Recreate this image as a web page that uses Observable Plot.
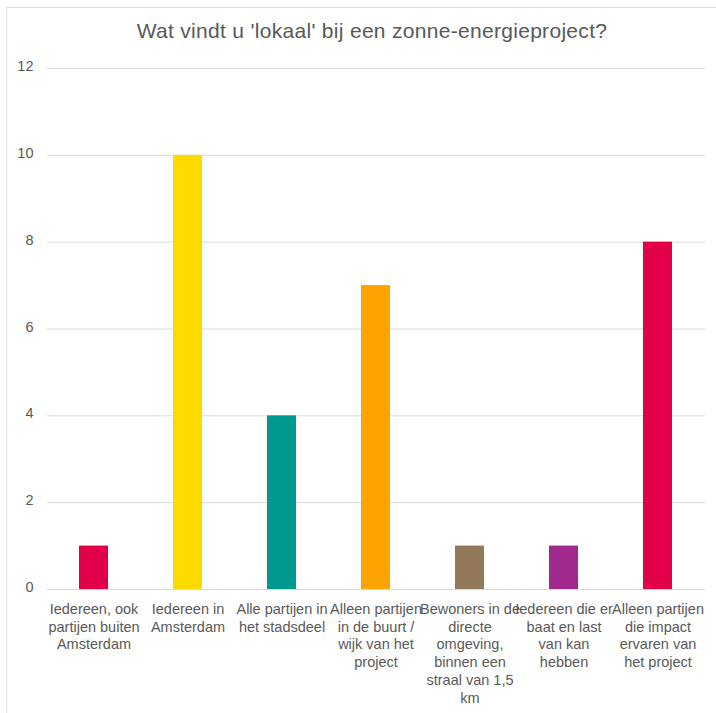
<!DOCTYPE html>
<html><head><meta charset="utf-8">
<script src="https://cdn.jsdelivr.net/npm/d3@7"></script>
<script src="https://cdn.jsdelivr.net/npm/@observablehq/plot@0.6"></script>
<style>
html,body{margin:0;padding:0;background:#fff;overflow:hidden;width:716px;height:713px;}
#frame{position:absolute;left:6px;top:7px;width:730px;height:730px;border-left:1.5px solid #dedede;border-top:1.5px solid #dedede;}
#title{position:absolute;left:0;width:744px;top:20px;text-align:center;font-family:'Liberation Sans',Arial,Helvetica,sans-serif;font-size:21px;line-height:21px;color:#595959;letter-spacing:0.3px;}
#chart{position:absolute;left:0;top:50px;}
</style></head><body>
<div id="frame"></div>
<div id="title">Wat vindt u 'lokaal' bij een zonne-energieproject?</div>
<div id="chart"></div>
<script>
const categories = [
  "Iedereen, ook\npartijen buiten\nAmsterdam",
  "Iedereen in\nAmsterdam",
  "Alle partijen in\nhet stadsdeel",
  "Alleen partijen\nin de buurt /\nwijk van het\nproject",
  "Bewoners in de\ndirecte\nomgeving,\nbinnen een\nstraal van 1,5\nkm",
  "Iedereen die er\nbaat en last\nvan kan\nhebben",
  "Alleen partijen\ndie impact\nervaren van\nhet project"
];
const values = [1, 10, 4, 7, 1, 1, 8];
const colors = ["#E3004A", "#FFDA00", "#009990", "#FFA300", "#94785A", "#A0298E", "#E3004A"];
const yTicks = [0, 2, 4, 6, 8, 10, 12];

const data = categories.map((c, i) => ({category: c, value: values[i]}));

const chart = Plot.plot({
  width: 716,
  height: 663,
  marginTop: 18,
  marginBottom: 124,
  marginLeft: 47,
  marginRight: 11,
  style: {fontFamily: "'Liberation Sans', Arial, Helvetica, sans-serif", background: "transparent", overflow: "visible"},
  x: {domain: categories, paddingInner: 0.69, paddingOuter: 0.345, label: null},
  y: {domain: [0, 12], label: null},
  color: {domain: categories, range: colors},
  marks: [
    Plot.gridY(yTicks, {stroke: "#d9d9d9", strokeOpacity: 1, strokeWidth: 1}),
    Plot.barY(data, {x: "category", y: "value", fill: "category"}),
    Plot.axisY(yTicks, {tickSize: 0, tickPadding: 14, fontSize: 14.5, fill: "#595959", label: null, dy: -2}),
    Plot.axisX({tickSize: 0, tickPadding: 12, fontSize: 14.5, lineHeight: 1.22, fill: "#595959", label: null})
  ]
});
document.getElementById("chart").appendChild(chart);
</script>
</body></html>
